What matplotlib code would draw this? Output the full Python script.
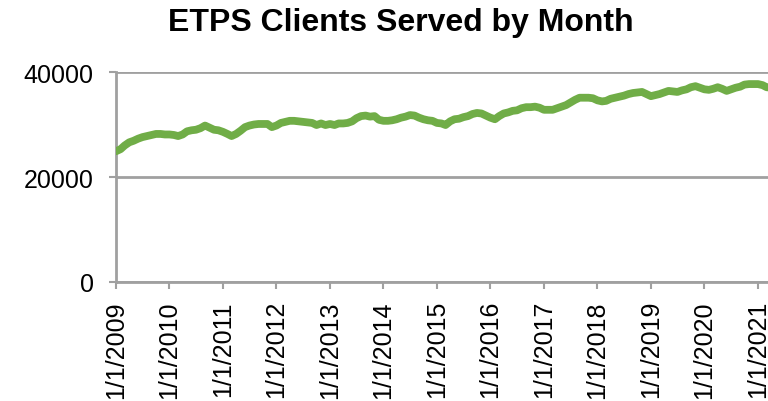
import matplotlib
matplotlib.use("Agg")
import matplotlib.pyplot as plt
import matplotlib.dates as mdates
import numpy as np
import pandas as pd

start_month = "2009-01-01"
clients = [
    24900, 25300, 26000, 26600, 26900, 27300, 27600, 27800, 28000, 28200, 28200, 28100,  # 2009
    28100, 28000, 27800, 28100, 28700, 28900, 29000, 29300, 29800, 29400, 29000, 28900,  # 2010
    28600, 28200, 27800, 28200, 28800, 29500, 29800, 30000, 30100, 30100, 30100, 29500,  # 2011
    29800, 30300, 30500, 30700, 30700, 30600, 30500, 30400, 30300, 29900, 30200, 29900,  # 2012
    30100, 29900, 30200, 30200, 30300, 30600, 31200, 31600, 31700, 31500, 31600, 30900,  # 2013
    30700, 30700, 30800, 31000, 31300, 31500, 31800, 31700, 31300, 31000, 30800, 30700,  # 2014
    30300, 30200, 29900, 30600, 31000, 31100, 31400, 31600, 32000, 32200, 32100, 31700,  # 2015
    31300, 31000, 31600, 32100, 32300, 32600, 32700, 33100, 33300, 33300, 33400, 33200,  # 2016
    32800, 32800, 32800, 33100, 33400, 33700, 34200, 34700, 35100, 35100, 35100, 35000,  # 2017
    34600, 34400, 34500, 34900, 35100, 35300, 35500, 35800, 36000, 36100, 36200, 35800,  # 2018
    35400, 35600, 35800, 36100, 36400, 36300, 36200, 36500, 36700, 37100, 37300, 37000,  # 2019
    36700, 36600, 36800, 37100, 36800, 36400, 36700, 37000, 37200, 37600, 37700, 37700,  # 2020
    37700, 37500, 37100, 37000,  # 2021
]
dates = pd.date_range(start_month, periods=len(clients), freq="MS")
tick_years = list(range(2009, 2022))
tick_labels = [f"1/1/{y}" for y in tick_years]
yticks = [0, 20000, 40000]

W, H = 768, 402
fig = plt.figure(figsize=(W / 100, H / 100), dpi=100)

# layout in pixels
x0_px, y0_px, y40_px = 116, 283, 73
px_per_year = 53.5
xmin = pd.Timestamp("2009-01-01")
xmax = pd.Timestamp("2021-08-01")
span_days = (xmax - xmin).days
right_px = x0_px + span_days / 365.25 * px_per_year
ax = fig.add_axes([x0_px / W, (H - y0_px) / H, (right_px - x0_px) / W, (y0_px - y40_px) / H])

grey = "#A0A0A0"
ax.plot(dates, clients, color="#70AD47", lw=5.6, solid_joinstyle="round", solid_capstyle="round", zorder=3, clip_on=True)

ax.set_xlim(mdates.date2num(xmin), mdates.date2num(xmax))
ax.set_ylim(0, 40000)
ax.set_yticks(yticks)
ax.set_yticklabels([str(v) for v in yticks])
ax.set_xticks([mdates.date2num(pd.Timestamp(f"{y}-01-01")) for y in tick_years])
ax.set_xticklabels(tick_labels, rotation=90, va="top", ha="center")

ax.grid(axis="y", color=grey, lw=2.0, zorder=1)
ax.set_axisbelow(True)
for s in ["top", "right"]:
    ax.spines[s].set_visible(False)
for s in ["left", "bottom"]:
    ax.spines[s].set_color(grey)
    ax.spines[s].set_linewidth(2.0)
ax.tick_params(axis="both", colors=grey, length=5, width=1.5, direction="out", labelsize=18, labelcolor="black")
ax.tick_params(axis="x", pad=8)
ax.tick_params(axis="y", pad=11)
for lbl in ax.get_xticklabels() + ax.get_yticklabels():
    lbl.set_fontfamily("Liberation Sans")

fig.text(401 / W, 1 - 23 / H, "ETPS Clients Served by Month", ha="center", va="center",
         fontsize=23, fontweight="bold", fontfamily="Liberation Sans")

fig.savefig("out.png", dpi=100)
